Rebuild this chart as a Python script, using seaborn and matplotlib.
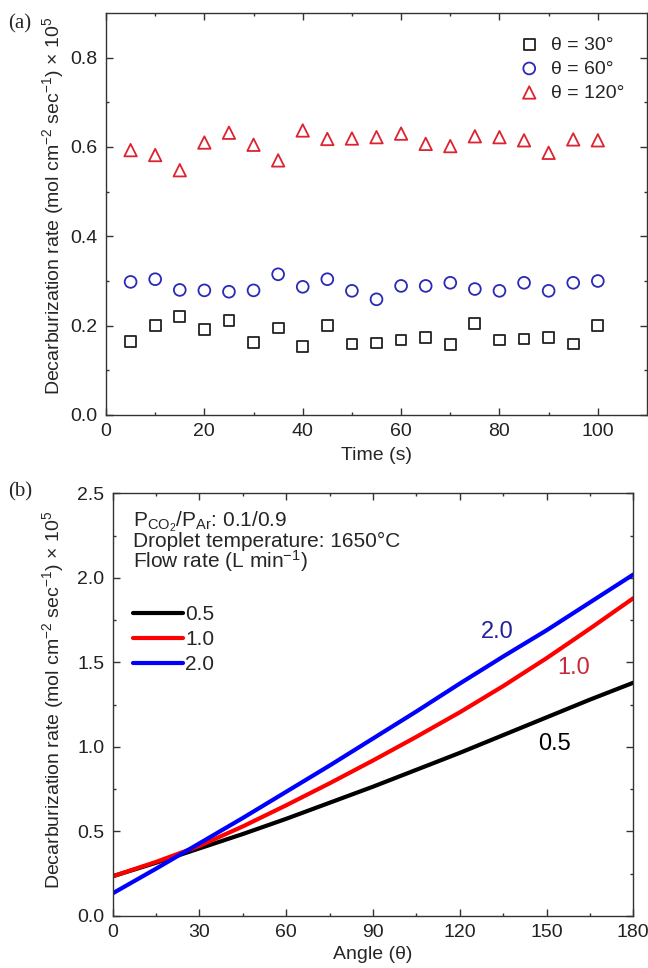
import numpy as np
import pandas as pd
import matplotlib
matplotlib.use('Agg')
import matplotlib.pyplot as plt
import seaborn as sns

# ---- panel (a): decarburization rate vs time ----
time_s = [5, 10, 15, 20, 25, 30, 35, 40, 45, 50, 55, 60, 65, 70, 75, 80, 85, 90, 95, 100]
rate_30 = [0.165, 0.200, 0.220, 0.192, 0.211, 0.163, 0.195, 0.153, 0.200, 0.159,
           0.161, 0.168, 0.173, 0.157, 0.205, 0.168, 0.170, 0.174, 0.159, 0.200]
rate_60 = [0.298, 0.304, 0.280, 0.279, 0.276, 0.279, 0.315, 0.287, 0.304, 0.278,
           0.259, 0.289, 0.289, 0.296, 0.282, 0.278, 0.296, 0.278, 0.296, 0.300]
rate_120 = [0.593, 0.582, 0.548, 0.610, 0.632, 0.605, 0.570, 0.637, 0.618, 0.619,
            0.622, 0.630, 0.607, 0.602, 0.624, 0.622, 0.615, 0.587, 0.617, 0.615]
theta_labels = ['θ = 30°', 'θ = 60°', 'θ = 120°']

# ---- panel (b): decarburization rate vs angle ----
angle = [0, 15, 30, 45, 60, 75, 90, 105, 120, 135, 150, 165, 180]
flow_05 = [0.235, 0.315, 0.400, 0.485, 0.575, 0.670, 0.765, 0.865, 0.965, 1.070, 1.175, 1.280, 1.380]
flow_10 = [0.235, 0.320, 0.415, 0.530, 0.655, 0.785, 0.920, 1.060, 1.205, 1.360, 1.525, 1.700, 1.880]
flow_20 = [0.134, 0.280, 0.430, 0.580, 0.735, 0.890, 1.050, 1.210, 1.375, 1.535, 1.690, 1.855, 2.020]
flow_labels = ['0.5', '1.0', '2.0']
cond_lines = [r'P$_{CO_2}$/P$_{Ar}$: 0.1/0.9',
              'Droplet temperature: 1650°C',
              r'Flow rate (L min$^{-1}$)']

sns.set_theme(style='ticks')
plt.rcParams['font.family'] = ['Liberation Sans', 'DejaVu Sans']
plt.rcParams['mathtext.default'] = 'regular'
plt.rcParams['axes.linewidth'] = 1.0
plt.rcParams['axes.edgecolor'] = '#333333'

ylab = r'Decarburization rate (mol cm$^{-2}$ sec$^{-1}$) × 10$^{5}$'

fig = plt.figure(figsize=(6.48, 9.68), dpi=100)
ax1 = fig.add_axes([106 / 648, 1 - 415 / 968, 541 / 648, 402 / 968])
ax2 = fig.add_axes([112.7 / 648, 1 - 916 / 968, 520.6 / 648, 422.6 / 968])

# scatter series, hollow markers
styles = [('s', '#222222', 60), ('o', '#2a2ab4', 72), ('^', '#dd2230', 80)]
for vals, lab, (mk, col, sz) in zip([rate_30, rate_60, rate_120], theta_labels, styles):
    sns.scatterplot(x=time_s, y=vals, ax=ax1, marker=mk, s=sz, facecolor='none',
                    edgecolor=col, linewidth=1.3, label=lab)

ax1.set_xlim(0, 110)
ax1.set_ylim(0, 0.9)
ax1.set_xticks([0, 20, 40, 60, 80, 100])
ax1.set_xticks(np.arange(10, 110, 20), minor=True)
ax1.set_yticks([0.0, 0.2, 0.4, 0.6, 0.8])
ax1.set_yticks([0.1, 0.3, 0.5, 0.7], minor=True)
ax1.set_yticklabels(['0.0', '0.2', '0.4', '0.6', '0.8'])
ax1.legend(loc='upper right', bbox_to_anchor=(0.9575, 0.943), frameon=False,
           fontsize=14, handlelength=1.0, handletextpad=0.6, borderpad=0,
           borderaxespad=0, labelspacing=0.33)
ax1.set_xlabel('Time (s)', fontsize=14)
ax1.set_ylabel(ylab, fontsize=14)
ax1.xaxis.set_label_coords(0.5, -0.08)
ax1.yaxis.set_label_coords(-0.074, 0.521)

# line series
line_cols = ['black', 'red', 'blue']
df_b = pd.DataFrame({
    'angle': angle * 3,
    'rate': flow_05 + flow_10 + flow_20,
    'flow': [f for f in flow_labels for _ in angle],
})
sns.lineplot(data=df_b, x='angle', y='rate', hue='flow', palette=line_cols,
             linewidth=3, ax=ax2, legend=True)

ax2.set_xlim(0, 180)
ax2.set_ylim(0, 2.5)
ax2.set_xticks(np.arange(0, 181, 30))
ax2.set_xticks(np.arange(15, 180, 30), minor=True)
ax2.set_yticks([0.0, 0.5, 1.0, 1.5, 2.0, 2.5])
ax2.set_yticks([0.25, 0.75, 1.25, 1.75, 2.25], minor=True)
ax2.set_yticklabels(['0.0', '0.5', '1.0', '1.5', '2.0', '2.5'])
ax2.legend(loc='upper left', bbox_to_anchor=(0.039, 0.736), frameon=False,
           fontsize=15, handlelength=2.4, handletextpad=0.1, borderpad=0,
           borderaxespad=0, labelspacing=0.3)
ax2.set_xlabel('Angle (θ)', fontsize=14)
ax2.set_ylabel(ylab, fontsize=14)
ax2.xaxis.set_label_coords(0.5, -0.071)
ax2.yaxis.set_label_coords(-0.0897, 0.511)

# conditions block (baseline of last line)
ax2.text(7, 2.057, '\n'.join(cond_lines), fontsize=15, va='baseline',
         linespacing=0.88)
ax2.text(133, 1.68, '2.0', color='#22229a', fontsize=17, ha='center', va='center')
ax2.text(159.5, 1.467, '1.0', color='#c8283c', fontsize=17, ha='center', va='center')
ax2.text(152.9, 1.018, '0.5', color='black', fontsize=17, ha='center', va='center')

for ax in (ax1, ax2):
    ax.tick_params(which='both', direction='in', top=True, right=True,
                   labelsize=14, colors='#333333', labelcolor='#222222')
    ax.tick_params(which='major', length=5, width=1.0, pad=6)
    ax.tick_params(which='minor', length=2.5, width=1.0)
    for s in ax.spines.values():
        s.set_visible(True)

fig.text(20 / 648, 1 - 24 / 968, '(a)', family='Liberation Serif', fontsize=15,
         ha='center', va='center')
fig.text(20 / 648, 1 - 492 / 968, '(b)', family='Liberation Serif', fontsize=15,
         ha='center', va='center')

fig.savefig('out.png', dpi=100)
